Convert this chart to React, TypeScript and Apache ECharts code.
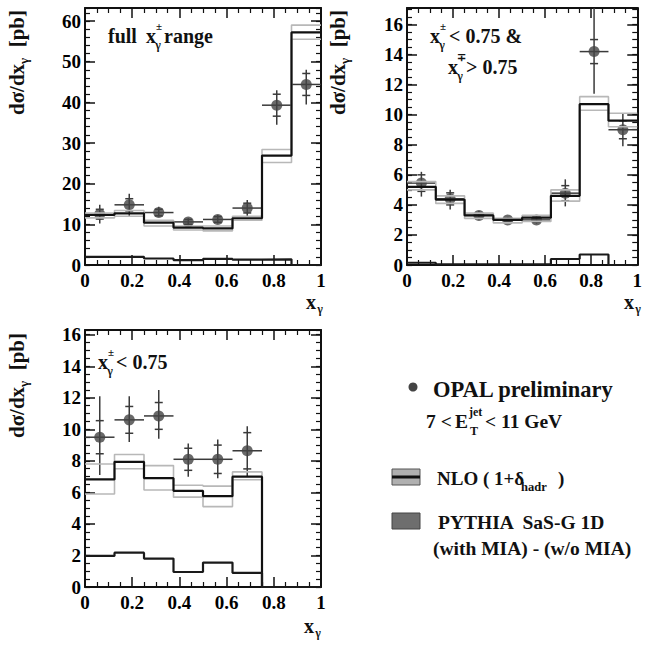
import React, { useEffect, useRef } from "react";
import * as echarts from "echarts";

const FONT = "Liberation Serif, Times New Roman, serif";

// bin layout in x_gamma
const binEdges = [0, 0.125, 0.25, 0.375, 0.5, 0.625, 0.75, 0.875, 1];
const binCenters = [0.0625, 0.1875, 0.3125, 0.4375, 0.5625, 0.6875, 0.8125, 0.9375];
const xTicks = [0, 0.2, 0.4, 0.6, 0.8, 1];

// Panel A: full x_gamma range
const dataA = [12.5, 14.8, 12.9, 10.6, 11.2, 14.0, 39.3, 44.4];
const statA = [1.2, 1.5, 0.8, 0.6, 0.7, 1.2, 2.7, 2.7];
const totLoA = [10.2, 11.9, 11.9, 9.6, 10.2, 11.9, 34.5, 39.5];
const totHiA = [14.8, 17.5, 14.3, 11.5, 12.3, 16.0, 43.0, 48.0];
const nloA = [12.3, 12.7, 10.4, 9.2, 9.0, 11.5, 26.9, 57.2];
const nloHiA = [12.8, 13.4, 11.0, 9.6, 9.6, 12.0, 28.4, 59.0];
const nloLoA = [11.6, 12.0, 9.6, 8.6, 8.4, 11.0, 25.2, 55.5];
const pythiaA = [2.0, 2.0, 1.6, 1.2, 1.5, 1.3, 1.4, 0];

// Panel B: x+- < 0.75 & x-+ > 0.75
const dataB = [5.45, 4.4, 3.3, 3.0, 3.0, 4.78, 14.2, 9.0];
const statB = [0.55, 0.4, 0.15, 0.12, 0.15, 0.5, 0.8, 0.6];
const totLoB = [4.55, 3.7, 3.0, 2.8, 2.75, 3.9, 11.4, 7.9];
const totHiB = [6.2, 5.0, 3.6, 3.2, 3.25, 5.7, 17.5, 10.1];
const nloB = [5.2, 4.35, 3.3, 3.0, 3.15, 4.6, 10.7, 9.6];
const nloHiB = [5.55, 4.6, 3.45, 3.1, 3.3, 5.0, 11.2, 10.1];
const nloLoB = [5.0, 4.1, 3.1, 2.8, 2.9, 4.25, 10.3, 9.2];
const pythiaB = [0.15, 0.05, 0.05, 0.05, 0.05, 0.4, 0.7, 0];

// Panel C: x+- < 0.75
const dataC = [9.5, 10.6, 10.85, 8.1, 8.1, 8.64];
const statC = [1.05, 0.85, 0.85, 0.7, 0.9, 1.15];
const totLoC = [7.1, 9.2, 9.4, 7.0, 6.9, 7.0];
const totHiC = [12.1, 12.1, 12.5, 9.1, 9.35, 10.2];
const nloC = [6.82, 7.94, 6.9, 6.1, 5.76, 7.0, 0, 0];
const nloHiC = [7.8, 8.4, 7.7, 6.45, 6.4, 7.3, 0, 0];
const nloLoC = [5.9, 7.5, 6.15, 5.7, 5.1, 6.8, 0, 0];
const pythiaC = [1.97, 2.18, 1.8, 0.95, 1.55, 0.9, 0, 0];

const hist = (vals: number[]) => {
  const pts: number[][] = [];
  vals.forEach((v, i) => {
    pts.push([binEdges[i], v], [binEdges[i + 1], v]);
  });
  return pts;
};

const AX = "#111";

function xAxes(g: number) {
  const base = (pos: string, label: boolean) => ({
    type: "value",
    gridIndex: g,
    position: pos,
    min: xTicks[0],
    max: xTicks[xTicks.length - 1],
    interval: 0.2,
    axisLine: { show: true, onZero: false, lineStyle: { color: AX, width: 2 } },
    axisTick: { show: true, inside: true, length: 10, lineStyle: { color: AX, width: 1.5 } },
    minorTick: { show: true, splitNumber: 4, length: 5, lineStyle: { color: AX, width: 1.2 } },
    axisLabel: {
      show: label,
      color: "#000",
      fontFamily: FONT,
      fontWeight: "bold",
      fontSize: 19,
      margin: 6,
    },
    splitLine: { show: false },
    minorSplitLine: { show: false },
  });
  return [base("bottom", true), base("top", false)];
}

function yAxes(g: number, max: number, major: number, minor: number) {
  const mk = (pos: string, interval: number, len: number, label: boolean, line: boolean) => ({
    type: "value",
    gridIndex: g,
    position: pos,
    min: 0,
    max,
    interval,
    axisLine: { show: line, onZero: false, lineStyle: { color: AX, width: 2 } },
    axisTick: { show: true, inside: true, length: len, lineStyle: { color: AX, width: len > 6 ? 1.5 : 1.2 } },
    axisLabel: {
      show: label,
      showMaxLabel: false,
      color: "#000",
      fontFamily: FONT,
      fontWeight: "bold",
      fontSize: 19,
      margin: 4,
    },
    splitLine: { show: false },
  });
  return [
    mk("left", major, 10, true, true),
    mk("left", minor, 5, false, false),
    mk("right", major, 10, false, true),
    mk("right", minor, 5, false, false),
  ];
}

function panelSeries(
  g: number,
  data: number[],
  stat: number[],
  lo: number[],
  hi: number[],
  nlo: number[],
  nloHi: number[],
  nloLo: number[],
  py: number[]
) {
  const xi = 2 * g;
  const yi = 4 * g;
  const line = (vals: number[], color: string, width: number) => ({
    type: "line",
    xAxisIndex: xi,
    yAxisIndex: yi,
    data: hist(vals),
    symbol: "none",
    silent: true,
    lineStyle: { color, width },
    clip: true,
  });
  return [
    line(nloHi, "#b8b8b8", 1.6),
    line(nloLo, "#b8b8b8", 1.6),
    line(nlo, "#111", 2.2),
    line(py, "#1a1a1a", 2.2),
    {
      type: "custom",
      xAxisIndex: xi,
      yAxisIndex: yi,
      clip: true,
      silent: true,
      data: data.map((v, i) => [binCenters[i], v, stat[i], lo[i], hi[i]]),
      encode: { x: 0, y: 1 },
      renderItem: (params: any, api: any) => {
        const x = api.value(0);
        const y = api.value(1);
        const s = api.value(2);
        const l = api.value(3);
        const h = api.value(4);
        const hw = 0.0625;
        const pL = api.coord([x - hw, y]);
        const pR = api.coord([x + hw, y]);
        const pLo = api.coord([x, l]);
        const pHi = api.coord([x, h]);
        const pSu = api.coord([x, y + s]);
        const pSd = api.coord([x, y - s]);
        const style = { stroke: "#3a3a3a", lineWidth: 1.5 };
        return {
          type: "group",
          children: [
            { type: "line", shape: { x1: pL[0], y1: pL[1], x2: pR[0], y2: pR[1] }, style },
            { type: "line", shape: { x1: pLo[0], y1: pLo[1], x2: pHi[0], y2: pHi[1] }, style },
            { type: "line", shape: { x1: pSu[0] - 4, y1: pSu[1], x2: pSu[0] + 4, y2: pSu[1] }, style },
            { type: "line", shape: { x1: pSd[0] - 4, y1: pSd[1], x2: pSd[0] + 4, y2: pSd[1] }, style },
          ],
        };
      },
    },
    {
      type: "scatter",
      xAxisIndex: xi,
      yAxisIndex: yi,
      silent: true,
      symbol: "circle",
      symbolSize: 11,
      itemStyle: { color: "#444" },
      data: data.map((v, i) => [binCenters[i], v]),
    },
  ];
}

const T = (x: number, y: number, text: string, size: number, align = "left", extra: any = {}) => ({
  type: "text",
  x,
  y,
  silent: true,
  ...extra,
  style: {
    text,
    fontSize: size,
    fontFamily: FONT,
    fontWeight: "bold",
    fill: "#111",
    align,
    verticalAlign: "middle",
  },
});

const yTitle = (x: number, yTop: number) => ({
  type: "text",
  x,
  y: yTop,
  rotation: Math.PI / 2,
  silent: true,
  style: {
    text: "{m|dσ/dx}{s|γ}{m|  [pb]}",
    align: "right",
    verticalAlign: "middle",
    fill: "#111",
    rich: {
      m: { fontSize: 21, lineHeight: 26, fontFamily: FONT, fontWeight: "bold", fill: "#111" },
      s: { fontSize: 13, lineHeight: 13, fontFamily: FONT, fontWeight: "bold", fill: "#111", verticalAlign: "bottom" },
    },
  },
});

const xTitle = (x: number, y: number) => [T(x, y, "x", 20, "center"), T(x + 9, y + 7, "γ", 12, "center")];

const xpm = (x: number, y: number, sign: string) => [
  T(x, y, "x", 20, "left"),
  T(x + 13, y - 10, sign, 11, "center"),
  T(x + 12, y + 9, "γ", 12, "center"),
];

export default function App() {
  const ref = useRef<HTMLDivElement>(null);
  useEffect(() => {
    if (!ref.current) return;
    const chart = echarts.init(ref.current, null, { renderer: "svg" });
    const option: any = {
      animation: false,
      backgroundColor: "#fff",
      grid: [
        { left: 85, top: 8, width: 236, height: 257 },
        { left: 407, top: 8, width: 235, height: 257 },
        { left: 85, top: 330, width: 236, height: 257 },
      ],
      xAxis: [...xAxes(0), ...xAxes(1), ...xAxes(2)],
      yAxis: [...yAxes(0, 63.2, 10, 2), ...yAxes(1, 17.1, 2, 0.5), ...yAxes(2, 16.3, 2, 0.5)],
      series: [
        ...panelSeries(0, dataA, statA, totLoA, totHiA, nloA, nloHiA, nloLoA, pythiaA),
        ...panelSeries(1, dataB, statB, totLoB, totHiB, nloB, nloHiB, nloLoB, pythiaB),
        ...panelSeries(2, dataC, statC, totLoC, totHiC, nloC, nloHiC, nloLoC, pythiaC),
      ],
      graphic: [
        yTitle(17, 10),
        yTitle(338, 10),
        yTitle(17, 333),
        ...xTitle(311, 302),
        ...xTitle(629, 302),
        ...xTitle(309, 626),
        // panel annotations
        T(108, 36, "full", 20),
        ...xpm(146, 36, "±"),
        T(164, 36, "range", 20),
        ...xpm(430, 36, "±"),
        T(449, 36, "< 0.75 &", 20),
        ...xpm(448, 67, "∓"),
        T(466, 67, "> 0.75", 20),
        ...xpm(98, 362, "±"),
        T(116, 362, "< 0.75", 20),
        // legend
        { type: "circle", shape: { cx: 413, cy: 387, r: 4.5 }, style: { fill: "#444" }, silent: true },
        T(433, 389, "OPAL preliminary", 22.5),
        T(426, 421, "7 <", 19.5),
        T(455, 421, "E", 19.5),
        T(469, 412, "jet", 12),
        T(470, 431, "T", 12),
        T(485, 421, "< 11 GeV", 19.5),
        { type: "rect", shape: { x: 392, y: 469, width: 28, height: 16 }, style: { fill: "#b0b0b0", stroke: "#555", lineWidth: 1 }, silent: true },
        { type: "rect", shape: { x: 392, y: 475.5, width: 28, height: 3 }, style: { fill: "#111" }, silent: true },
        T(437, 478, "NLO ( 1+δ", 19),
        T(521, 487, "hadr", 12.5),
        T(558, 478, ")", 19),
        { type: "rect", shape: { x: 392, y: 513, width: 28, height: 16 }, style: { fill: "#6e6e6e", stroke: "#444", lineWidth: 1 }, silent: true },
        T(438, 522, "PYTHIA  SaS-G 1D", 19.5),
        T(433, 548, "(with MIA) - (w/o MIA)", 19.5),
      ],
    };
    chart.setOption(option);
    return () => chart.dispose();
  }, []);
  return (
    <div
      ref={ref}
      style={{ position: "fixed", left: 0, top: 0, width: 645, height: 645, background: "#fff" }}
    />
  );
}
